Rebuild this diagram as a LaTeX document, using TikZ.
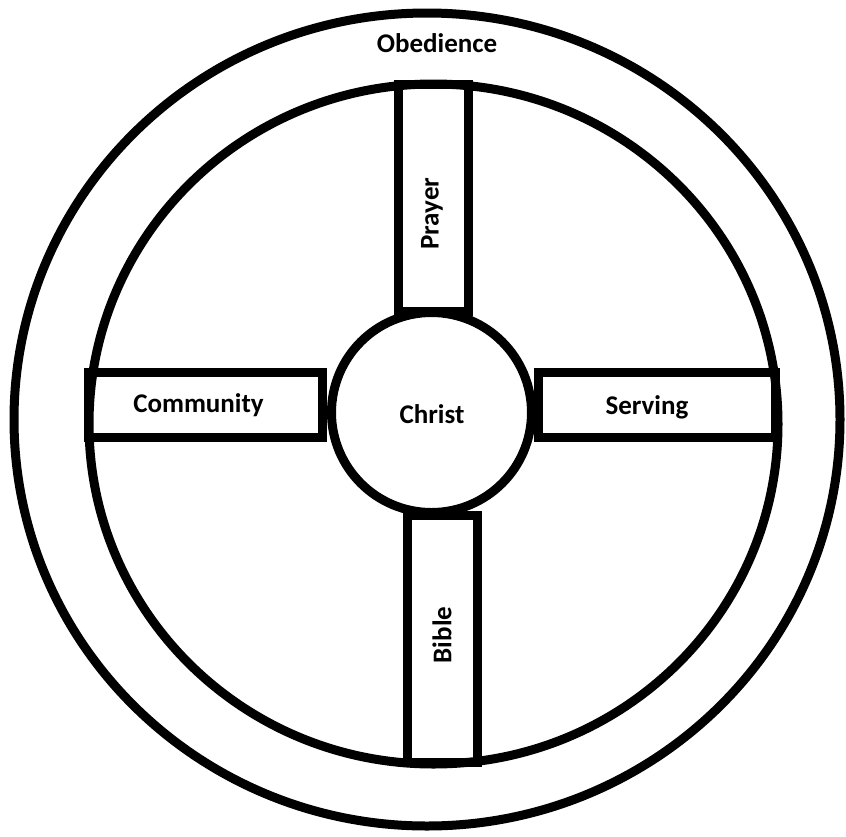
\documentclass[tikz,border=0pt]{standalone}
\usepackage{fontspec}
\setmainfont{Carlito}
\usetikzlibrary{shapes.geometric}
\begin{document}
\begin{tikzpicture}[x=1pt,y=-1pt,
  ring/.style={draw=black,line width=9pt,ellipse,inner sep=0pt},
  hub/.style={draw=black,line width=9pt,circle,inner sep=0pt},
  spoke/.style={draw=black,line width=9pt,rectangle,inner sep=0pt},
  lbl/.style={inner sep=0pt,font=\fontsize{27}{27}\selectfont\bfseries}]
\useasboundingbox (0,0) rectangle (846,836);
\node[ring,minimum width=826pt,minimum height=813pt] (outer) at (427,419.5) {};
\node[ring,minimum width=689pt,minimum height=680pt] (inner) at (433.5,424) {};
\node[spoke,minimum width=70pt,minimum height=227pt] (prayerbox) at (433,197.5) {};
\node[spoke,minimum width=70pt,minimum height=247pt] (biblebox) at (442,638.5) {};
\node[spoke,minimum width=234pt,minimum height=65pt] (communitybox) at (205,404.5) {};
\node[spoke,minimum width=237pt,minimum height=65pt] (servingbox) at (656.5,404.5) {};
\node[hub,fill=white,minimum size=200pt] (christ) at (431.5,412.5) {};
\node[lbl] (obedience) at (437,43) {Obedience};
\node[lbl] (christlbl) at (432,414) {Christ};
\node[lbl,rotate=90] (prayer) at (432,213.5) {Prayer};
\node[lbl,rotate=90] (bible) at (442,635) {Bible};
\node[lbl] (community) at (198.5,405) {Community};
\node[lbl] (serving) at (647,407) {Serving};
\end{tikzpicture}
\end{document}
